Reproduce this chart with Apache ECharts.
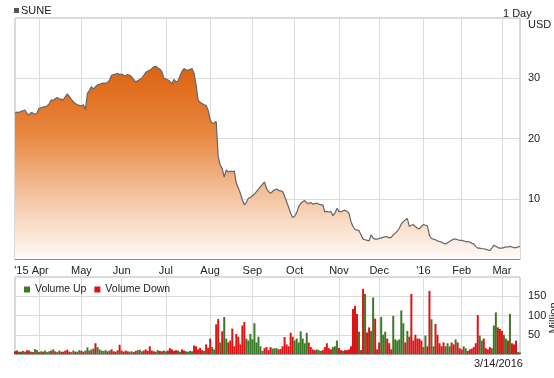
<!DOCTYPE html>
<html>
<head>
<meta charset="utf-8">
<script src="https://cdn.jsdelivr.net/npm/echarts@6/dist/echarts.min.js"></script>
<style>
html, body { margin: 0; padding: 0; background: #fff; }
#main { width: 554px; height: 378px; }
</style>
</head>
<body>
<div id="main"></div>
<script>
// trading calendar shown on the x axis
var startDate = '2015-03-16';
var endDate = '2016-03-14';
var holidays = ['2015-04-03', '2015-05-25', '2015-07-03', '2015-09-07', '2015-11-26',
  '2015-12-25', '2016-01-01', '2016-01-18', '2016-02-15'];
var monthLabels = ["'15 Apr", 'May', 'Jun', 'Jul', 'Aug', 'Sep', 'Oct', 'Nov', 'Dec', "'16", 'Feb', 'Mar'];

// close price, USD
var price = [
  24.2, 24.4, 24.3, 24.5, 24.6, 24.7, 24.1, 23.9, 24.3, 24.2,
  24.0, 24.3, 25.0, 25.1, 25.2, 25.3, 25.4, 25.8, 26.4, 26.3,
  26.6, 26.8, 26.6, 26.5, 26.4, 26.9, 27.4, 27.0, 26.5, 26.1,
  25.8, 25.6, 25.5, 25.4, 25.6, 24.8, 27.5, 28.0, 28.6, 28.2,
  28.6, 28.9, 29.0, 29.1, 29.2, 29.2, 29.3, 29.7, 30.5, 30.6,
  30.7, 30.8, 30.6, 30.7, 30.5, 30.4, 30.6, 30.5, 30.2, 29.8,
  29.4, 29.6, 29.8, 30.0, 30.5, 31.0, 31.2, 31.3, 31.6, 31.9,
  32.0, 31.7, 31.5, 31.1, 30.0, 29.9, 29.7, 29.5, 29.1, 29.8,
  29.4, 29.5, 30.4, 31.1, 31.6, 31.4, 31.3, 31.5, 31.6, 30.8,
  28.9, 26.4, 26.0, 25.8, 25.6, 25.5, 24.7, 23.1, 22.5, 22.6,
  22.8, 17.0, 15.6, 15.0, 13.6, 14.8, 14.4, 14.6, 14.5, 14.6,
  12.6, 11.8, 10.9, 9.8, 9.0, 9.4, 10.1, 10.2, 10.5, 10.8,
  11.2, 11.6, 12.0, 12.4, 12.8, 11.7, 11.2, 10.9, 11.2, 11.5,
  11.6, 11.4, 11.3, 11.2, 10.4, 9.5, 8.6, 7.6, 6.9, 7.1,
  7.7, 8.7, 9.2, 9.5, 9.7, 9.3, 9.2, 9.4, 9.1, 9.2,
  9.3, 9.1, 9.0, 9.0, 7.8, 7.9, 7.8, 7.9, 7.2, 7.6,
  8.4, 7.9, 7.8, 8.0, 8.1, 7.9, 7.6, 6.2, 5.4, 4.9,
  4.8, 4.7, 4.0, 3.3, 3.2, 3.1, 3.0, 4.0, 3.5, 3.3,
  3.3, 3.4, 3.5, 3.6, 3.7, 3.7, 3.5, 3.6, 4.0, 4.3,
  4.6, 5.1, 5.8, 6.2, 6.5, 6.7, 5.4, 5.6, 5.7, 5.4,
  5.1, 5.0, 5.4, 5.7, 5.6, 5.5, 3.9, 3.4, 3.3, 3.2,
  3.0, 2.9, 2.8, 2.6, 2.5, 2.7, 2.9, 3.1, 3.3, 3.3,
  3.2, 3.1, 3.1, 3.0, 2.9, 2.9, 2.8, 2.6, 2.5, 2.1,
  1.8, 1.8, 1.7, 1.7, 1.6, 1.5, 1.4, 1.8, 2.3, 2.1,
  1.9, 1.8, 1.8, 1.9, 2.0, 2.0, 2.1, 2.0, 1.9, 1.9,
  2.0, 2.1
];

// volume, millions of shares
var volume = [
  7, 9, 6, 6, 8, 6, 10, 9, 6, 5,
  13, 10, 5, 7, 6, 9, 5, 7, 9, 12,
  7, 5, 9, 6, 6, 9, 11, 6, 5, 9,
  6, 6, 10, 8, 6, 9, 17, 9, 12, 14,
  28, 18, 12, 9, 8, 10, 7, 9, 12, 7,
  6, 10, 24, 9, 6, 9, 7, 6, 7, 5,
  8, 10, 11, 7, 9, 12, 8, 20, 9, 7,
  6, 10, 8, 7, 9, 7, 9, 15, 12, 8,
  10, 9, 6, 12, 9, 7, 6, 8, 7, 22,
  20, 12, 16, 10, 8, 25, 16, 40, 18, 12,
  77, 91, 30, 59, 96, 40, 30, 35, 66, 20,
  52, 45, 25, 74, 83, 40, 35, 52, 38, 80,
  30, 45, 20, 8, 15, 18, 10, 18, 14, 15,
  15, 12, 13, 20, 44, 25, 20, 55, 45, 35,
  40, 30, 59, 40, 28, 55, 30, 18, 12, 10,
  12, 10, 8, 10, 18, 28, 15, 12, 18, 20,
  35, 16, 10, 8, 10, 10, 12, 20, 117, 125,
  104, 58, 10, 169, 156, 56, 69, 60, 147, 92,
  12, 30, 96, 50, 58, 40, 28, 12, 99, 38,
  35, 38, 113, 80, 30, 60, 45, 156, 35, 50,
  40, 40, 35, 18, 48, 20, 164, 90, 20, 78,
  50, 28, 20, 30, 20, 28, 20, 30, 25, 38,
  30, 15, 12, 20, 15, 8, 12, 14, 18, 28,
  101, 48, 35, 40, 15, 12, 18, 15, 74, 108,
  69, 65, 60, 50, 40, 35, 104, 28, 25, 35,
  5, 4
];

// u = up day, d = down day
var volDir = (
  'dduduuddud uududuuudu duuddddduu duudduuduu duuuuududd ' +
  'duddddduud duuudddddd uudduudddd duudduuuud dddduddduu ' +
  'dduduudddd ddddduuuuu uuuudddduu uddddddddu uuuuuudddd ' +
  'uuuddddduu uddudddddd duddudduud dduuuddduu uuuududddd ' +
  'ddduudduud dddduuuddu ddduuddddd duudddduuu ddduududdd uu'
).replace(/ /g, '').split('');

function tradingDays() {
  var out = [];
  var d = new Date(startDate + 'T00:00:00Z');
  var end = new Date(endDate + 'T00:00:00Z');
  while (d <= end) {
    var s = d.toISOString().slice(0, 10);
    var wd = d.getUTCDay();
    if (wd !== 0 && wd !== 6 && holidays.indexOf(s) < 0) out.push(s);
    d.setUTCDate(d.getUTCDate() + 1);
  }
  return out;
}

var dates = tradingDays();
var tickLabel = {};
var k = 0;
for (var i = 1; i < dates.length; i++) {
  if (dates[i].slice(5, 7) !== dates[i - 1].slice(5, 7)) {
    tickLabel[i] = monthLabels[k++];
  }
}
function isTick(idx) { return tickLabel[idx] !== undefined; }

var upData = volume.map(function (v, i) { return volDir[i] === 'u' ? v : '-'; });
var downData = volume.map(function (v, i) { return volDir[i] === 'd' ? v : '-'; });

var font = 'Liberation Sans, Arial, sans-serif';
var gridLine = { lineStyle: { color: '#dcdcdc', width: 1 } };

var chart = echarts.init(document.getElementById('main'), null, { renderer: 'canvas' });

chart.setOption({
  animation: false,
  textStyle: { fontFamily: font },
  legend: {
    left: 19, top: 279,
    icon: 'rect', itemWidth: 6, itemHeight: 6, itemGap: 8,
    textStyle: { fontSize: 10.5, color: '#222', fontFamily: font },
    data: ['Volume Up', 'Volume Down']
  },
  grid: [
    { left: 15, right: 34, top: 18, height: 241, show: true, borderColor: '#b4b4b4', borderWidth: 1,
      outerBoundsMode: 'none', containLabel: false },
    { left: 15, right: 34, top: 277, height: 77, show: true, borderColor: '#b4b4b4', borderWidth: 1,
      outerBoundsMode: 'none', containLabel: false }
  ],
  xAxis: [
    {
      gridIndex: 0, type: 'category', data: dates, boundaryGap: false,
      axisLine: { lineStyle: { color: '#8a8a8a' } },
      axisTick: { show: false },
      axisLabel: {
        interval: isTick, fontSize: 11, color: '#222', margin: 6,
        formatter: function (v, idx) {
          var t = tickLabel[idx] || '';
          return t === "'15 Apr" ? t + '     ' : t;
        }
      },
      splitLine: { show: true, interval: isTick, lineStyle: gridLine.lineStyle }
    },
    {
      gridIndex: 1, type: 'category', data: dates, boundaryGap: false,
      axisLine: { lineStyle: { color: '#a0a0a0' } },
      axisTick: { show: false },
      axisLabel: { show: false },
      splitLine: { show: true, interval: isTick, lineStyle: gridLine.lineStyle }
    }
  ],
  yAxis: [
    {
      gridIndex: 0, type: 'value', position: 'right', min: 0, max: 40, interval: 10,
      axisLine: { show: false }, axisTick: { show: false },
      axisLabel: {
        fontSize: 11, color: '#222', margin: 8,
        formatter: function (v) { return (v === 0 || v === 40) ? '' : v; }
      },
      splitLine: gridLine
    },
    {
      gridIndex: 1, type: 'value', position: 'right', min: 0, max: 200, interval: 50,
      axisLine: { show: false }, axisTick: { show: false },
      axisLabel: {
        fontSize: 11, color: '#222', margin: 8,
        formatter: function (v) { return (v === 0 || v === 200) ? '' : v; }
      },
      splitLine: gridLine
    }
  ],
  graphic: [
    { type: 'rect', left: 14, top: 8, shape: { width: 5, height: 5 }, style: { fill: '#555' } },
    { type: 'text', left: 21, top: 5, style: { text: 'SUNE', font: '11px ' + font, fill: '#222' } },
    { type: 'text', left: 503, top: 8, style: { text: '1 Day', font: '11px ' + font, fill: '#222' } },
    { type: 'text', left: 528, top: 19, style: { text: 'USD', font: '11px ' + font, fill: '#222' } },
    { type: 'text', left: 474, top: 358, style: { text: '3/14/2016', font: '11px ' + font, fill: '#222' } },
    {
      type: 'text', x: 548, y: 318, rotation: Math.PI / 2,
      style: { text: 'Million', font: '11px ' + font, fill: '#222', align: 'center', verticalAlign: 'top' }
    }
  ],
  series: [
    {
      name: 'SUNE', type: 'line', xAxisIndex: 0, yAxisIndex: 0,
      data: price, showSymbol: false, smooth: false,
      lineStyle: { color: '#666', width: 1.2 },
      areaStyle: {
        origin: 'start', opacity: 1,
        color: new echarts.graphic.LinearGradient(0, 0, 0, 1, [
          { offset: 0, color: '#dd6212' },
          { offset: 0.35, color: '#e8873f' },
          { offset: 0.7, color: '#f5c8a8' },
          { offset: 1, color: '#fffbf8' }
        ])
      }
    },
    {
      name: 'Volume Up', type: 'bar', xAxisIndex: 1, yAxisIndex: 1,
      data: upData, barWidth: 2, barGap: '-100%',
      itemStyle: { color: '#3b7a28' }
    },
    {
      name: 'Volume Down', type: 'bar', xAxisIndex: 1, yAxisIndex: 1,
      data: downData, barWidth: 2, barGap: '-100%',
      itemStyle: { color: '#dc1414' }
    }
  ]
});
</script>
</body>
</html>
